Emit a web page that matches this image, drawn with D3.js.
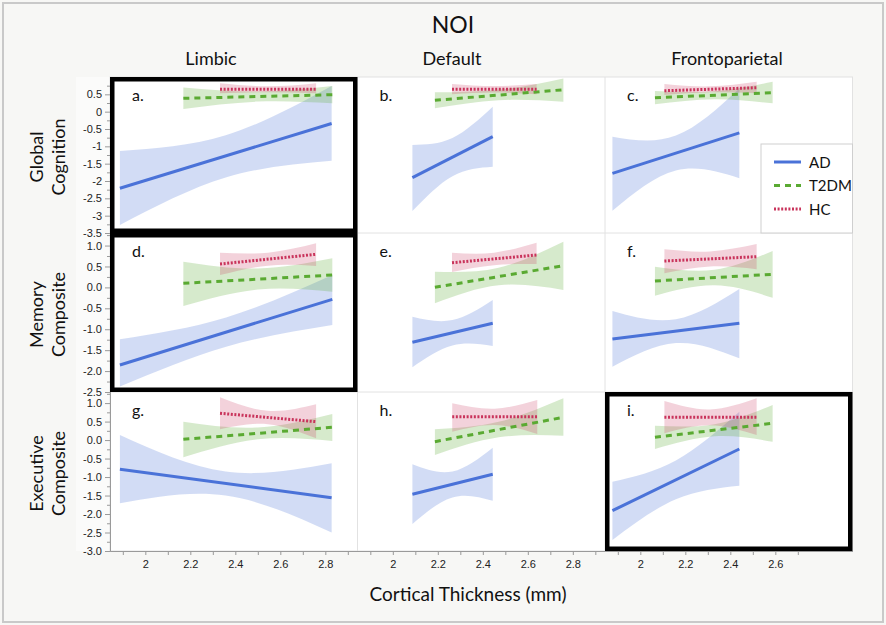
<!DOCTYPE html>
<html>
<head>
<meta charset="utf-8">
<script src="https://cdn.jsdelivr.net/npm/d3@7"></script>
<style>
  body { margin: 0; background: #f7f7f5; }
  svg { display: block; }
  .title { font-family: Lato, "Open Sans", sans-serif; fill: #111; }
  .axis text { font-family: "Liberation Sans", Arial, sans-serif; font-size: 11px; fill: #222; }
  .axis path, .axis line { stroke: #9a9a9a; }
</style>
</head>
<body>
<svg id="chart" width="886" height="625"></svg>
<script>
// ---- data ----
const networks = ['Limbic', 'Default', 'Frontoparietal'];
const measures = [['Global', 'Cognition'], ['Memory', 'Composite'], ['Executive', 'Composite']];
const panelLetters = ['a.', 'b.', 'c.', 'd.', 'e.', 'f.', 'g.', 'h.', 'i.'];
const highlighted = ['a.', 'd.', 'i.'];
const groups = ['AD', 'T2DM', 'HC'];

const yTicksGlobal = [0.5, 0, -0.5, -1, -1.5, -2, -2.5, -3, -3.5];
const yTicksMemory = [1.0, 0.5, 0.0, -0.5, -1.0, -1.5, -2.0, -2.5];
const yTicksExecutive = [1.0, 0.5, 0.0, -0.5, -1.0, -1.5, -2.0, -2.5, -3.0];
const xTicksWide = [2, 2.2, 2.4, 2.6, 2.8];
const xTicksNarrow = [2, 2.2, 2.4, 2.6];
const xMinorWide = [1.9, 2.1, 2.3, 2.5, 2.7, 2.9];
const xMinorNarrow = [1.9, 2.1, 2.3, 2.5, 2.7];

// fitted lines: [[x start, y start], [x end, y end]] per panel a..i
const adFit = [
  [[1.887, -2.21], [2.828, -0.34]],
  [[2.087, -1.905], [2.444, -0.72]],
  [[1.876, -1.78], [2.44, -0.61]],
  [[1.887, -1.855], [2.831, -0.285]],
  [[2.087, -1.312], [2.444, -0.858]],
  [[1.876, -1.233], [2.44, -0.858]],
  [[1.887, -0.79], [2.828, -1.56]],
  [[2.087, -1.467], [2.444, -0.926]],
  [[1.876, -1.91], [2.44, -0.242]]
];
const t2dmFit = [
  [[2.169, 0.385], [2.831, 0.489]],
  [[2.187, 0.327], [2.758, 0.633]],
  [[2.065, 0.40], [2.588, 0.547]],
  [[2.169, 0.098], [2.831, 0.296]],
  [[2.187, 0.002], [2.758, 0.519]],
  [[2.065, 0.153], [2.588, 0.313]],
  [[2.169, 0.02], [2.831, 0.345]],
  [[2.187, -0.044], [2.758, 0.615]],
  [[2.065, 0.075], [2.588, 0.453]]
];
const hcFit = [
  [[2.332, 0.645], [2.759, 0.645]],
  [[2.263, 0.645], [2.639, 0.645]],
  [[2.107, 0.604], [2.517, 0.69]],
  [[2.332, 0.559], [2.759, 0.791]],
  [[2.263, 0.59], [2.639, 0.774]],
  [[2.107, 0.631], [2.517, 0.734]],
  [[2.332, 0.724], [2.759, 0.497]],
  [[2.264, 0.632], [2.642, 0.632]],
  [[2.107, 0.615], [2.517, 0.615]]
];

// confidence bands: [x, lower, upper] at start / middle / end
const adBand = [
  [[1.887, -3.27, -1.135], [2.357, -1.9, -0.68], [2.828, -1.415, 0.74]],
  [[2.087, -2.865, -0.96], [2.265, -1.86, -0.76], [2.444, -1.59, 0.14]],
  [[1.876, -2.857, -0.72], [2.158, -1.7, -0.69], [2.44, -1.92, 0.67]],
  [[1.887, -2.37, -1.24], [2.359, -1.42, -0.72], [2.831, -0.9, 0.296]],
  [[2.087, -1.91, -0.70], [2.265, -1.39, -0.78], [2.444, -1.40, -0.30]],
  [[1.876, -1.895, -0.564], [2.158, -1.33, -0.76], [2.44, -1.695, -0.038]],
  [[1.887, -1.71, 0.137], [2.357, -1.5, -0.85], [2.828, -2.5, -0.63]],
  [[2.087, -2.27, -0.655], [2.265, -1.55, -0.85], [2.444, -1.64, -0.207]],
  [[1.876, -2.70, -1.126], [2.158, -1.6, -0.55], [2.44, -1.234, 0.767]]
];
const t2dmBand = [
  [[2.169, 0.077, 0.70], [2.5, 0.29, 0.58], [2.831, 0.24, 0.74]],
  [[2.187, 0.097, 0.558], [2.47, 0.33, 0.63], [2.758, 0.287, 0.96]],
  [[2.065, 0.212, 0.596], [2.33, 0.36, 0.59], [2.588, 0.24, 0.864]],
  [[2.169, -0.445, 0.614], [2.5, -0.05, 0.45], [2.831, -0.103, 0.695]],
  [[2.187, -0.38, 0.375], [2.47, 0.05, 0.47], [2.758, -0.06, 1.09]],
  [[2.065, -0.198, 0.495], [2.33, 0.05, 0.42], [2.588, -0.246, 0.87]],
  [[2.169, -0.466, 0.497], [2.5, 0.02, 0.34], [2.831, -0.025, 0.705]],
  [[2.187, -0.404, 0.291], [2.47, 0.075, 0.495], [2.758, 0.117, 1.129]],
  [[2.065, -0.242, 0.388], [2.33, 0.1, 0.43], [2.588, -0.044, 0.948]]
];
const hcBand = [
  [[2.332, 0.53, 0.82], [2.545, 0.56, 0.73], [2.759, 0.53, 0.82]],
  [[2.263, 0.5, 0.8], [2.45, 0.55, 0.74], [2.639, 0.5, 0.8]],
  [[2.107, 0.48, 0.8], [2.31, 0.56, 0.73], [2.517, 0.53, 0.86]],
  [[2.332, 0.296, 0.829], [2.545, 0.52, 0.83], [2.759, 0.511, 1.054]],
  [[2.263, 0.368, 0.829], [2.45, 0.53, 0.83], [2.639, 0.559, 1.068]],
  [[2.107, 0.337, 0.91], [2.31, 0.5, 0.86], [2.517, 0.433, 1.037]],
  [[2.332, 0.291, 1.156], [2.545, 0.43, 0.79], [2.759, 0.048, 0.967]],
  [[2.264, 0.226, 0.994], [2.453, 0.41, 0.85], [2.642, 0.164, 1.083]],
  [[2.107, 0.183, 1.056], [2.31, 0.4, 0.83], [2.517, 0.137, 1.129]]
];

// ---- layout ----
const svg = d3.select('#chart');
const plotLeft = 110, colW = 247.5;
const rowEdges = [77, 233, 392, 551];
const xDomain = [1.843, 2.943];
const yDomains = [[-3.5, 1.0], [-2.5, 1.3], [-3.0, 1.3]];
const yTicks = [yTicksGlobal, yTicksMemory, yTicksExecutive];
const yFormats = [d => String(d), d => d.toFixed(1), d => d.toFixed(1)];

const style = {
  AD: { color: '#4a72d8', fillOpacity: 0.25, dash: null },
  T2DM: { color: '#5aaa32', fillOpacity: 0.25, dash: '6,5' },
  HC: { color: '#c9335b', fillOpacity: 0.22, dash: '2,1.6' }
};
const fits = { AD: adFit, T2DM: t2dmFit, HC: hcFit };
const bands = { AD: adBand, T2DM: t2dmBand, HC: hcBand };

const xScales = networks.map((n, c) => d3.scaleLinear()
  .domain(xDomain).range([plotLeft + c * colW, plotLeft + (c + 1) * colW]));
const yScales = yDomains.map((dom, r) => d3.scaleLinear()
  .domain(dom).range([rowEdges[r + 1], rowEdges[r]]));

// outer frame
svg.append('rect').attr('x', 3).attr('y', 3).attr('width', 880).attr('height', 619)
  .attr('fill', '#f7f7f5').attr('stroke', '#c9c9c9').attr('stroke-width', 2);
svg.append('rect').attr('x', 76).attr('y', rowEdges[0]).attr('width', plotLeft - 76)
  .attr('height', rowEdges[3] - rowEdges[0]).attr('fill', '#fbfbfa');

// panel backgrounds & grid
svg.append('rect').attr('x', plotLeft).attr('y', rowEdges[0])
  .attr('width', colW * 3).attr('height', rowEdges[3] - rowEdges[0])
  .attr('fill', '#fff').attr('stroke', '#e2e2e2');
[1, 2].forEach(c => svg.append('line')
  .attr('x1', plotLeft + c * colW).attr('x2', plotLeft + c * colW)
  .attr('y1', rowEdges[0]).attr('y2', rowEdges[3]).attr('stroke', '#e2e2e2'));
[1, 2].forEach(r => svg.append('line')
  .attr('x1', plotLeft).attr('x2', plotLeft + 3 * colW)
  .attr('y1', rowEdges[r]).attr('y2', rowEdges[r]).attr('stroke', '#e2e2e2'));

// y axes
yScales.forEach((y, r) => {
  const minor = d3.range(yDomains[r][0], yDomains[r][1] - 0.2, 0.5).map(v => v + 0.25);
  svg.append('g').attr('class', 'axis').attr('transform', `translate(${plotLeft},0)`)
    .call(d3.axisLeft(y).tickValues(minor).tickSize(3).tickFormat('').tickSizeOuter(0));
  svg.append('g').attr('class', 'axis').attr('transform', `translate(${plotLeft},0)`)
    .call(d3.axisLeft(y).tickValues(yTicks[r]).tickSize(5).tickPadding(3)
      .tickFormat(yFormats[r]).tickSizeOuter(0));
});

// x axes
xScales.forEach((x, c) => {
  const major = c === 2 ? xTicksNarrow : xTicksWide;
  const minor = c === 2 ? xMinorNarrow : xMinorWide;
  svg.append('g').attr('class', 'axis').attr('transform', `translate(0,${rowEdges[3]})`)
    .call(d3.axisBottom(x).tickValues(minor).tickSize(4).tickFormat('').tickSizeOuter(0));
  svg.append('g').attr('class', 'axis').attr('transform', `translate(0,${rowEdges[3]})`)
    .call(d3.axisBottom(x).tickValues(major).tickSize(4).tickPadding(5)
      .tickFormat(d => String(d)).tickSizeOuter(0));
});

// panels
measures.forEach((m, r) => {
  networks.forEach((n, c) => {
    const i = r * 3 + c;
    const x = xScales[c], y = yScales[r];
    const g = svg.append('g');
    const area = d3.area().curve(d3.curveNatural)
      .x(d => x(d[0])).y0(d => y(d[1])).y1(d => y(d[2]));
    const line = d3.line().x(d => x(d[0])).y(d => y(d[1]));

    groups.forEach(k => {
      g.append('path').attr('d', area(bands[k][i]))
        .attr('fill', style[k].color).attr('fill-opacity', style[k].fillOpacity);
    });
    groups.forEach(k => {
      g.append('path').attr('d', line(fits[k][i]))
        .attr('fill', 'none').attr('stroke', style[k].color)
        .attr('stroke-width', 3).attr('stroke-dasharray', style[k].dash);
    });

    g.append('text').attr('class', 'title')
      .attr('x', plotLeft + c * colW + 22).attr('y', rowEdges[r] + 24)
      .style('font-size', '16px').text(panelLetters[i]);

    if (highlighted.includes(panelLetters[i])) {
      g.append('rect')
        .attr('x', plotLeft + c * colW + 2.25).attr('y', rowEdges[r] + 2.25)
        .attr('width', colW - 4.5).attr('height', rowEdges[r + 1] - rowEdges[r] - 4.5)
        .attr('fill', 'none').attr('stroke', '#000').attr('stroke-width', 4.5);
    }
  });
});

// legend (inside panel c)
const lg = svg.append('g').attr('transform', `translate(761,144)`);
lg.append('rect').attr('width', plotLeft + 3 * colW - 761).attr('height', rowEdges[1] - 144)
  .attr('fill', '#fff').attr('stroke', '#cfcfcf');
groups.forEach((k, j) => {
  const yy = 18 + j * 23.5;
  lg.append('line').attr('x1', 13).attr('x2', 40).attr('y1', yy).attr('y2', yy)
    .attr('stroke', style[k].color).attr('stroke-width', 3)
    .attr('stroke-dasharray', style[k].dash);
  lg.append('text').attr('class', 'title').attr('x', 48).attr('y', yy + 5.5)
    .style('font-size', '15px').text(k);
});

// titles
svg.append('text').attr('class', 'title').attr('x', 453).attr('y', 33)
  .attr('text-anchor', 'middle').style('font-size', '23px').text('NOI');
const colTitleX = [211, 452, 727];
networks.forEach((n, c) => {
  svg.append('text').attr('class', 'title').attr('x', colTitleX[c]).attr('y', 65)
    .attr('text-anchor', 'middle').style('font-size', '18px').text(n);
});
measures.forEach((m, r) => {
  const cy = (rowEdges[r] + rowEdges[r + 1]) / 2 + 2;
  m.forEach((word, j) => {
    svg.append('text').attr('class', 'title')
      .attr('transform', `translate(${43 + j * 22},${cy}) rotate(-90)`)
      .attr('text-anchor', 'middle').style('font-size', '18px').text(word);
  });
});
svg.append('text').attr('class', 'title').attr('x', 468).attr('y', 601)
  .attr('text-anchor', 'middle').style('font-size', '19px').text('Cortical Thickness (mm)');
</script>
</body>
</html>
